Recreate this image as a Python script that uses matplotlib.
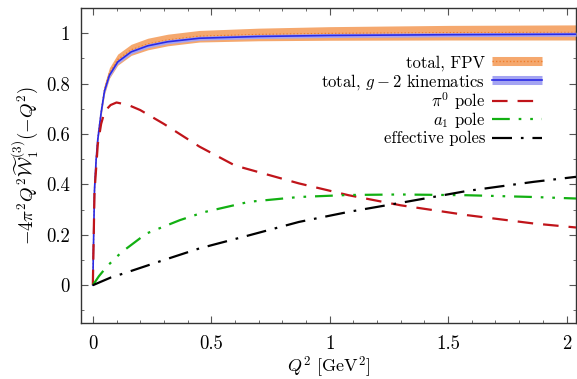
import numpy as np
import matplotlib
matplotlib.use('Agg')
import matplotlib.pyplot as plt
from matplotlib.lines import Line2D
from matplotlib.legend import Legend
from matplotlib.ticker import MultipleLocator, FormatStrFormatter

plt.rcParams['font.family'] = 'serif'
plt.rcParams['font.serif'] = ['cmr10', 'DejaVu Serif']
plt.rcParams['mathtext.fontset'] = 'cm'
plt.rcParams['axes.formatter.use_mathtext'] = True
plt.rcParams['font.size'] = 13

# total (g-2 kinematics)
q2_tot = [0, 0.002, 0.007, 0.014, 0.021, 0.035, 0.049, 0.07, 0.105, 0.162,
          0.232, 0.316, 0.45, 0.7, 1.0, 1.5, 2.04]
tot_g2 = [0, 0.12, 0.38, 0.50, 0.58, 0.685, 0.77, 0.833, 0.886, 0.926,
          0.95, 0.966, 0.98, 0.987, 0.991, 0.994, 0.996]
g2_err = [0, 0.004, 0.006, 0.007, 0.008, 0.008, 0.008, 0.008, 0.008, 0.008,
          0.008, 0.008, 0.008, 0.008, 0.008, 0.008, 0.008]
# total FPV (central value and half-width of band)
tot_fpv = [0, 0.12, 0.38, 0.50, 0.585, 0.69, 0.777, 0.842, 0.895, 0.934,
           0.957, 0.973, 0.988, 0.995, 0.999, 1.002, 1.003]
fpv_err = [0, 0.006, 0.012, 0.015, 0.017, 0.019, 0.02, 0.021, 0.022, 0.022,
           0.023, 0.023, 0.023, 0.025, 0.027, 0.029, 0.03]

q2_pi0 = [0, 0.007, 0.021, 0.035, 0.05, 0.075, 0.1, 0.15, 0.2, 0.3, 0.45,
          0.6, 0.87, 1.08, 1.3, 1.58, 1.86, 2.04]
pi0 = [0, 0.37, 0.56, 0.64, 0.69, 0.715, 0.725, 0.715, 0.695, 0.64, 0.55,
       0.475, 0.404, 0.357, 0.317, 0.278, 0.245, 0.229]

q2_a1 = [0, 0.025, 0.06, 0.12, 0.226, 0.367, 0.47, 0.66, 0.87, 1.08, 1.3,
         1.58, 1.86, 2.04]
a1 = [0, 0.035, 0.075, 0.13, 0.205, 0.258, 0.29, 0.331, 0.35, 0.358, 0.36,
      0.357, 0.35, 0.344]

q2_eff = [0, 0.077, 0.128, 0.297, 0.45, 0.66, 0.87, 1.08, 1.3, 1.58, 1.86, 2.04]
eff = [0, 0.031, 0.046, 0.099, 0.146, 0.198, 0.251, 0.291, 0.327, 0.374,
       0.41, 0.43]

labels = ['total, FPV', r'total, $g-2$ kinematics', r'$\pi^0$ pole',
          r'$a_1$ pole', 'effective poles']

c_or_band = '#f5a86e'
c_or_line = '#ee7d2c'
c_bl_band = '#a4a4f2'
c_bl_line = '#2a2ae6'
c_red = '#c0141a'
c_green = '#12b012'
ls_red = (0, (7, 4.5))
ls_green = (0, (8, 4, 1.2, 4, 1.2, 4))
ls_black = (0, (9, 4, 1.2, 4))

fig = plt.figure(figsize=(5.77, 3.79), dpi=100)
ax = fig.add_axes([81/577, 56/379, (576-81)/577, (323-8)/379])

q = np.array(q2_tot)
fv, fe = np.array(tot_fpv), np.array(fpv_err)
gv, ge = np.array(tot_g2), np.array(g2_err)

ax.fill_between(q, fv - fe, fv + fe, color=c_or_band, lw=0, zorder=1)
ax.plot(q, fv, color=c_or_line, lw=1.0, ls=(0, (1, 1.5)), zorder=2)
ax.fill_between(q, gv - ge, gv + ge, color=c_bl_band, lw=0, zorder=3)
ax.plot(q, gv, color=c_bl_line, lw=1.2, zorder=4)

ax.plot(q2_pi0, pi0, color=c_red, lw=1.6, ls=ls_red, zorder=5)
ax.plot(q2_a1, a1, color=c_green, lw=1.6, ls=ls_green, zorder=5)
ax.plot(q2_eff, eff, color='black', lw=1.6, ls=ls_black, zorder=5)

ax.set_xlim(-0.05, 2.04)
ax.set_ylim(-0.15, 1.1)
ax.xaxis.set_major_locator(MultipleLocator(0.5))
ax.xaxis.set_minor_locator(MultipleLocator(0.1))
ax.yaxis.set_major_locator(MultipleLocator(0.2))
ax.yaxis.set_minor_locator(MultipleLocator(0.1))
ax.xaxis.set_major_formatter(FormatStrFormatter('%g'))
ax.yaxis.set_major_formatter(FormatStrFormatter('%g'))
ax.tick_params(which='both', direction='in', top=True, right=True,
               color='#555555')
ax.tick_params(which='major', length=5, pad=8, labelsize=13.5)
ax.tick_params(axis='x', which='major', pad=9)
ax.tick_params(which='minor', length=2.5)
for s in ax.spines.values():
    s.set_linewidth(1.0)
    s.set_color('#333333')

ax.set_xlabel(r'$Q^2$ [GeV$^2$]', labelpad=1, fontsize=13)
ax.set_ylabel(r'$-4\pi^2 Q^2 \widetilde{\mathcal{W}}_1^{(3)}(-Q^2)$',
              labelpad=4, fontsize=13.5)

# legend samples: thick line stands in for the error band
h_fpv = (Line2D([], [], color=c_or_band, lw=6.5, solid_capstyle='butt'),
         Line2D([], [], color=c_or_line, lw=1.0, ls=(0, (1, 1.5))))
h_g2 = (Line2D([], [], color=c_bl_band, lw=6.5, solid_capstyle='butt'),
        Line2D([], [], color=c_bl_line, lw=1.2))
h_pi = Line2D([], [], color=c_red, lw=1.6, ls=ls_red)
h_a1 = Line2D([], [], color=c_green, lw=1.6, ls=ls_green)
h_eff = Line2D([], [], color='black', lw=1.6, ls=ls_black)
handles = [h_fpv, h_g2, h_pi, h_a1, h_eff]

# one single-entry legend per row so that the row pitch stays even
row_top = 0.826
row_step = 19 / 315
for i, (h, lab) in enumerate(zip(handles, labels)):
    leg = Legend(ax, [h], [lab], loc='center right',
                 bbox_to_anchor=(0.931, row_top - i * row_step),
                 frameon=False, markerfirst=False, borderpad=0,
                 borderaxespad=0, fontsize=12, handlelength=3.0,
                 handletextpad=0.4)
    ax.add_artist(leg)

fig.savefig('out.png', dpi=100)
